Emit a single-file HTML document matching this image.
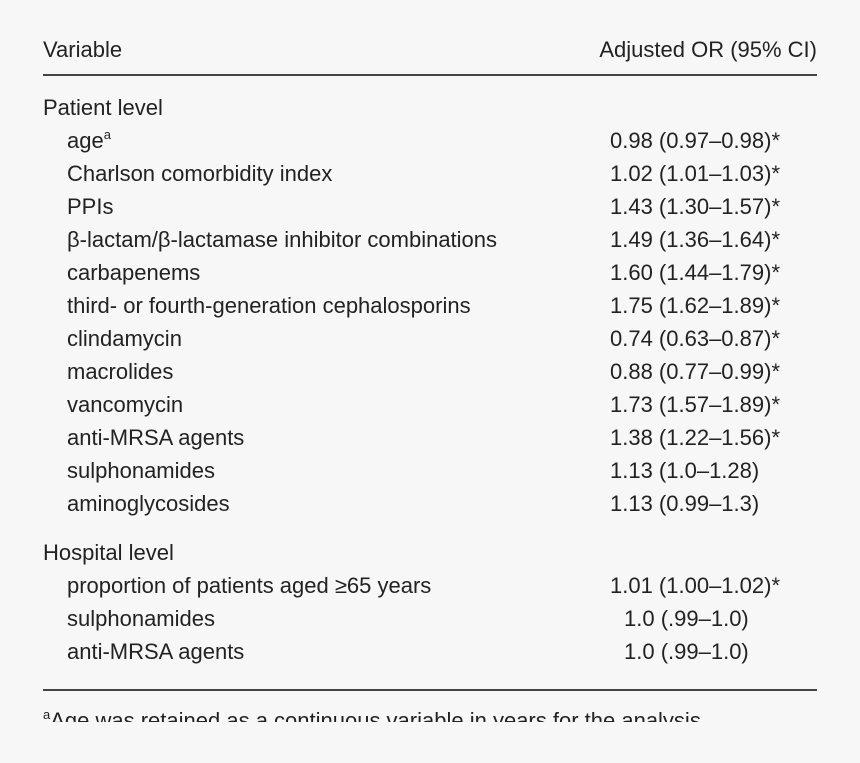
<!DOCTYPE html>
<html><head><meta charset="utf-8"><style>
html,body{margin:0;padding:0;}
body{width:860px;height:763px;background:#f7f7f7;position:relative;overflow:hidden;font-family:"Liberation Sans",sans-serif;color:#222;font-size:22px;}
.t{position:absolute;white-space:nowrap;line-height:26px;}
.hr{position:absolute;left:43px;width:774px;background:#444;}
sup{font-size:13px;vertical-align:9px;line-height:0;}
</style></head><body>
<div class="t" style="left:43px;top:37px">Variable</div>
<div class="t" style="right:43px;top:37px">Adjusted OR (95% CI)</div>
<div class="hr" style="top:74px;height:2px"></div>
<div id="rows"></div>
<div class="hr" style="top:689px;height:2px"></div>
<div style="position:absolute;left:0;top:700px;width:860px;height:22px;overflow:hidden">
<div class="t" style="left:43px;top:8px"><sup>a</sup>Age was retained as a continuous variable in years for the analysis.</div>
</div>
<script>
const rows=[
["Patient level","",95,43,610],
["age<sup>a</sup>","0.98 (0.97–0.98)*",128,67,610],
["Charlson comorbidity index","1.02 (1.01–1.03)*",161,67,610],
["PPIs","1.43 (1.30–1.57)*",194,67,610],
["β-lactam/β-lactamase inhibitor combinations","1.49 (1.36–1.64)*",227,67,610],
["carbapenems","1.60 (1.44–1.79)*",260,67,610],
["third- or fourth-generation cephalosporins","1.75 (1.62–1.89)*",293,67,610],
["clindamycin","0.74 (0.63–0.87)*",326,67,610],
["macrolides","0.88 (0.77–0.99)*",359,67,610],
["vancomycin","1.73 (1.57–1.89)*",392,67,610],
["anti-MRSA agents","1.38 (1.22–1.56)*",425,67,610],
["sulphonamides","1.13 (1.0–1.28)",458,67,610],
["aminoglycosides","1.13 (0.99–1.3)",491,67,610],
["Hospital level","",540,43,610],
["proportion of patients aged ≥65 years","1.01 (1.00–1.02)*",573,67,610],
["sulphonamides","1.0 (.99–1.0)",606,67,624],
["anti-MRSA agents","1.0 (.99–1.0)",639,67,624]
];
const c=document.getElementById('rows');
rows.forEach(r=>{
 const a=document.createElement('div');a.className='t';a.style.left=r[3]+'px';a.style.top=r[2]+'px';a.innerHTML=r[0];
 
 
 c.appendChild(a);
 if(r[1]){const b=document.createElement('div');b.className='t';b.style.left=r[4]+'px';b.style.top=r[2]+'px';b.textContent=r[1];
 
 
 c.appendChild(b);}
});
</script>
</body></html>
